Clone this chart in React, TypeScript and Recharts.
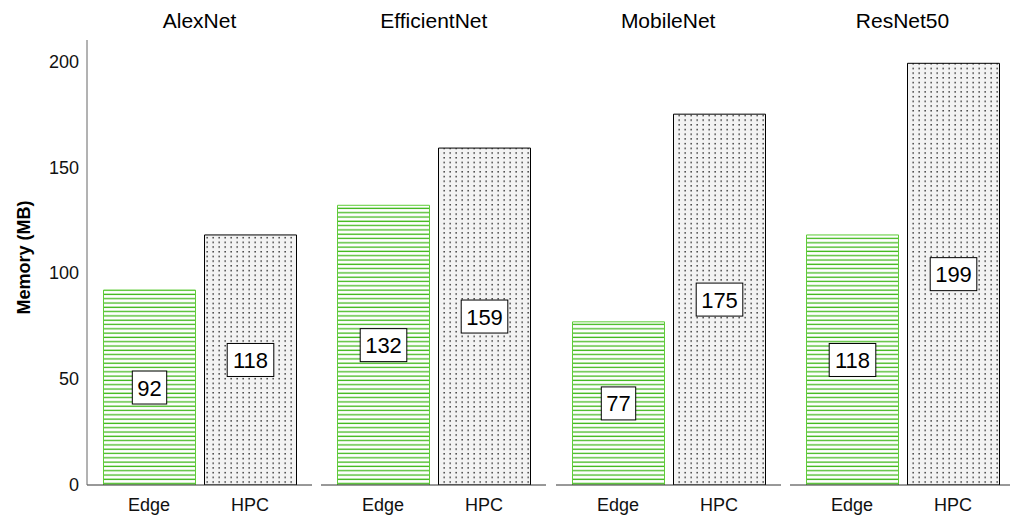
import { BarChart, Bar, XAxis, YAxis, Cell, LabelList } from 'recharts';

const models = ['AlexNet', 'EfficientNet', 'MobileNet', 'ResNet50'];
const platforms = ['Edge', 'HPC'];
const edgeMB = [92, 132, 77, 118];
const hpcMB = [118, 159, 175, 199];
const yTicks = [0, 50, 100, 150, 200];

const FONT = '"Liberation Sans", Arial, Helvetica, sans-serif';
const AXIS = '#333';
const PANEL_W = 225;
const PANEL_STEP = 234.33;
const FIRST_LEFT = 87;

function ValueBox(props: any) {
  const { x, y, width, height, value } = props;
  const cx = x + width / 2;
  const cy = y + height / 2;
  const w = String(value).length * 12.2 + 10;
  return (
    <g>
      <rect x={cx - w / 2} y={cy - 16.5} width={w} height={33} fill="#fff" stroke="#000" strokeWidth={1} />
      <text x={cx} y={cy + 8} textAnchor="middle" fontSize={22} fontFamily={FONT} fill="#000">
        {value}
      </text>
    </g>
  );
}

function Panel({ idx }: { idx: number }) {
  const data = platforms.map((p, j) => ({ platform: p, value: j === 0 ? edgeMB[idx] : hpcMB[idx] }));
  const first = idx === 0;
  const yw = first ? FIRST_LEFT : 0;
  const left = first ? 0 : FIRST_LEFT + idx * PANEL_STEP;
  const hatch = `hatch-${idx}`;
  const dots = `dots-${idx}`;
  return (
    <div style={{ position: 'absolute', left, top: 0 }}>
      <div
        style={{
          position: 'absolute',
          left: yw,
          width: PANEL_W,
          top: 9,
          textAlign: 'center',
          fontSize: 21,
          fontFamily: FONT,
          color: '#000',
          lineHeight: '24px',
        }}
      >
        {models[idx]}
      </div>
      <BarChart
        width={yw + PANEL_W}
        height={517}
        data={data}
        margin={{ top: 40, right: 0, bottom: 0, left: 0 }}
      >
        <defs>
          <pattern id={hatch} patternUnits="userSpaceOnUse" width={6} height={4.3}>
            <rect width={6} height={4.3} fill="#fff" />
            <line x1={0} x2={6} y1={2} y2={2} stroke="#3fb81a" strokeWidth={1.3} />
          </pattern>
          <pattern id={dots} patternUnits="userSpaceOnUse" width={6} height={4.7}>
            <rect width={6} height={4.7} fill="#f3f3f3" />
            <rect x={2.5} y={2} width={1.3} height={1.3} fill="#000" />
          </pattern>
        </defs>
        <XAxis
          dataKey="platform"
          axisLine={{ stroke: AXIS }}
          tickLine={false}
          tickMargin={7}
          height={32}
          padding={{ left: 11.5, right: 11.5 }}
          tick={{ fontSize: 18, fill: '#111', fontFamily: FONT }}
        />
        <YAxis
          width={yw}
          domain={[0, 210]}
          ticks={yTicks}
          allowDataOverflow
          axisLine={{ stroke: first ? '#666' : AXIS }}
          tickLine={false}
          tick={first ? { fontSize: 18, fill: '#111', fontFamily: FONT } : false}
          label={
            first
              ? {
                  value: 'Memory (MB)',
                  angle: -90,
                  position: 'center',
                  dx: -20,
                  dy: -5,
                  style: { fontSize: 18, fontWeight: 'bold', fill: '#000', fontFamily: FONT },
                }
              : undefined
          }
        />
        <Bar dataKey="value" barSize={92} isAnimationActive={false}>
          {data.map((d, j) => (
            <Cell
              key={d.platform}
              fill={j === 0 ? `url(#${hatch})` : `url(#${dots})`}
              stroke={j === 0 ? '#5fcc38' : '#000'}
              strokeWidth={1}
            />
          ))}
          <LabelList dataKey="value" content={<ValueBox />} />
        </Bar>
      </BarChart>
    </div>
  );
}

export default function App() {
  return (
    <div style={{ position: 'absolute', left: 0, top: 0, width: 1010, height: 517, background: '#fff', overflow: 'hidden' }}>
      {models.map((m, i) => (
        <Panel key={m} idx={i} />
      ))}
    </div>
  );
}
